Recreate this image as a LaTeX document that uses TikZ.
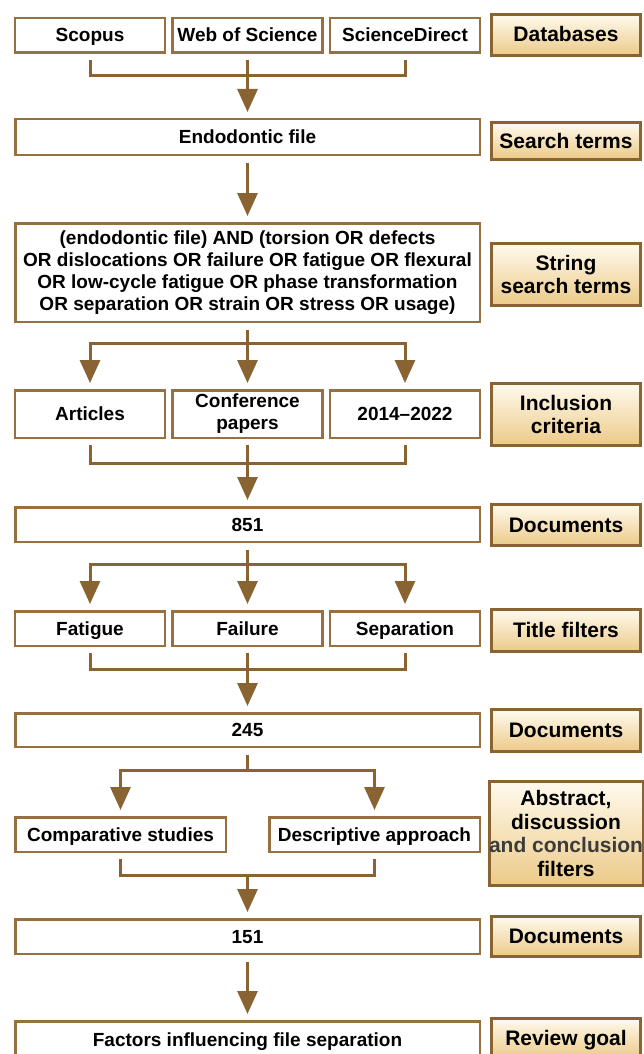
\documentclass[tikz,border=0pt]{standalone}
\usepackage{fontspec}
\setmainfont{Liberation Sans}
\usetikzlibrary{arrows.meta, positioning, shadows}
\definecolor{linebrown}{RGB}{137,99,50}
\definecolor{boxbrown}{RGB}{150,112,62}
\definecolor{lbltop}{RGB}{255,250,238}
\definecolor{lblbot}{RGB}{236,202,136}
\definecolor{greytext}{RGB}{60,60,60}

\begin{document}
\begin{tikzpicture}[x=1pt, y=-1pt,
	>={Triangle[length=23pt, width=20pt]},
	cell/.style={rectangle, draw=boxbrown, line width=2.5pt, fill=white, inner sep=0pt, minimum width=150pt, minimum height=34.5pt, font=\fontsize{19}{22}\selectfont\bfseries, align=center},
	box/.style={cell, text height=16pt, text depth=3pt},
	stage/.style={rectangle, draw=linebrown, line width=3pt, top color=lbltop, bottom color=lblbot, minimum width=149pt, inner sep=0pt, font=\fontsize{21}{23.5}\selectfont\bfseries, align=center, drop shadow={shadow xshift=1.2pt, shadow yshift=-1.2pt, opacity=0.35}},
	tag/.style={stage, text height=17pt, text depth=3pt},
	link/.style={draw=linebrown, line width=3pt},
	flow/.style={link, ->, shorten >=6pt}
	]
	\useasboundingbox (0,0) rectangle (643,1054);
	
	% Databases
	\node[box] (scopus) at (90,35.5) {Scopus};
	\node[box] (wos) at (247.5,35.5) {Web of Science};
	\node[box] (sd) at (405,35.5) {ScienceDirect};
	\node[tag, minimum height=41pt] (lbl_db) at (566,35) {Databases};
	
	% Search terms
	\node[box, minimum width=464.5pt, minimum height=35.5pt] (endo) at (247.5,137) {Endodontic file};
	\node[tag, minimum height=36pt] (lbl_terms) at (566,141) {Search terms};
	
	% String search terms
	\node[cell, minimum width=464.5pt, minimum height=98.5pt] (string) at (247.5,272.5) {(endodontic file) AND (torsion OR defects\\OR dislocations OR failure OR fatigue OR flexural\\OR low-cycle fatigue OR phase transformation\\OR separation OR strain OR stress OR usage)};
	\node[stage, minimum height=62pt] (lbl_string) at (566,274.5) {String\\search terms};
	
	% Inclusion criteria
	\node[box, minimum height=47.5pt] (art) at (90,414) {Articles};
	\node[cell, minimum height=47.5pt] (conf) at (247.5,414) {Conference\\papers};
	\node[box, minimum height=47.5pt] (years) at (405,414) {2014--2022};
	\node[stage, minimum height=62pt] (lbl_incl) at (566,414.5) {Inclusion\\criteria};
	
	% Documents
	\node[box, minimum width=464.5pt] (n851) at (247.5,524.5) {851};
	\node[tag, minimum height=41pt] (lbl_doc1) at (566,525) {Documents};
	
	% Title filters
	\node[box] (fat) at (90,628.5) {Fatigue};
	\node[box] (fail) at (247.5,628.5) {Failure};
	\node[box] (sep) at (405,628.5) {Separation};
	\node[tag, minimum height=42pt] (lbl_title) at (566,630.5) {Title filters};
	
	% Documents
	\node[box, minimum width=464.5pt, minimum height=33.5pt] (n245) at (247.5,730) {245};
	\node[tag, minimum height=42pt] (lbl_doc2) at (566,730.5) {Documents};
	
	% Abstract, discussion and conclusion filters
	\node[box, minimum width=210.5pt] (comp) at (120.5,834.5) {Comparative studies};
	\node[box, minimum width=210.5pt] (desc) at (374.5,834.5) {Descriptive approach};
	\node[stage, minimum height=104pt] (lbl_abs) at (566,833.5) {Abstract,\\discussion\\{\color{greytext}and conclusion}\\filters};
	
	% Documents
	\node[box, minimum width=464.5pt] (n151) at (247.5,936.5) {151};
	\node[tag, minimum height=40pt] (lbl_doc3) at (566,936.5) {Documents};
	
	% Review goal
	\node[box, minimum width=464.5pt, minimum height=37.5pt] (goal) at (247.5,1040) {Factors influencing file separation};
	\node[tag, minimum height=40pt] (lbl_goal) at (566,1038.5) {Review goal};
	
	% Databases merge
	\coordinate (j1) at (247.5,76);
	\draw[link] ([yshift=-6pt]scopus.south) |- (j1) -| ([yshift=-6pt]sd.south);
	\draw[link] ([yshift=-6pt]wos.south) -- (j1);
	\draw[flow] (j1) -- (endo.north);
	
	\draw[flow, shorten <=7pt] (endo) -- (string);
	
	% Split to inclusion criteria
	\coordinate (s1) at (247.5,343);
	\draw[link, shorten <=7pt] (string) -- (s1);
	\draw[flow] (s1) -| (art.north);
	\draw[flow] (s1) -| (years.north);
	\draw[flow] (s1) -- (conf.north);
	
	\coordinate (j2) at (247.5,463);
	\draw[link] ([yshift=-6pt]art.south) |- (j2) -| ([yshift=-6pt]years.south);
	\draw[link] ([yshift=-6pt]conf.south) -- (j2);
	\draw[flow] (j2) -- (n851.north);
	
	% Split to title filters
	\coordinate (s2) at (247.5,564);
	\draw[link, shorten <=7pt] (n851) -- (s2);
	\draw[flow] (s2) -| (fat.north);
	\draw[flow] (s2) -| (sep.north);
	\draw[flow] (s2) -- (fail.north);
	
	\coordinate (j3) at (247.5,669);
	\draw[link] ([yshift=-6pt]fat.south) |- (j3) -| ([yshift=-6pt]sep.south);
	\draw[link] ([yshift=-6pt]fail.south) -- (j3);
	\draw[flow] (j3) -- (n245.north);
	
	% Split to abstract filters
	\coordinate (s3) at (247.5,770);
	\draw[link, shorten <=7pt] (n245) -- (s3);
	\draw[flow] (s3) -| (comp.north);
	\draw[flow] (s3) -| (desc.north);
	
	\coordinate (j4) at (247.5,875);
	\draw[link] ([yshift=-6pt]comp.south) |- (j4) -| ([yshift=-6pt]desc.south);
	\draw[flow] (j4) -- (n151.north);
	
	\draw[flow, shorten <=7pt] (n151) -- (goal);
	
\end{tikzpicture}
\end{document}
